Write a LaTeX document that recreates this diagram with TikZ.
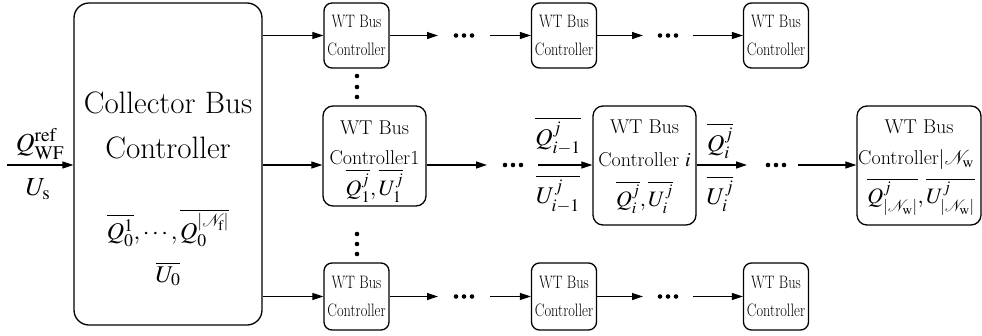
\documentclass[tikz,border=0pt]{standalone}
\usepackage{mathptmx}
\renewcommand{\rmdefault}{lmr}
\usetikzlibrary{arrows.meta,calc}
\newcommand{\condw}[1]{\scalebox{0.8}[1]{#1}}
\begin{document}
\begin{tikzpicture}[x=1pt,y=-1pt,
  box/.style={draw,line width=1.3pt,rounded corners=8pt,inner sep=0pt},
  sbox/.style={box,minimum width=65pt,minimum height=65pt,align=center,font=\fontsize{18}{28}\selectfont},
  mbox/.style={box,rounded corners=10pt,minimum width=103pt},
  arr/.style={-{Triangle[length=11pt,width=7pt]},line width=1.2pt},
  md/.style={font=\fontsize{20}{20}\selectfont,inner sep=0pt},
  mm/.style={font=\fontsize{22}{22}\selectfont,inner sep=0pt},
  lbl/.style={font=\fontsize{24}{24}\selectfont,inner sep=0pt},
  big/.style={font=\fontsize{31}{31}\selectfont,inner sep=0pt},
  dot/.style={fill=black}]
\useasboundingbox (0,0) rectangle (982,335);
% collector
\node[box,rounded corners=15pt,minimum width=188pt,minimum height=322pt] (C) at (168,164) {};
\node[big] (c1) at (168,103) {Collector Bus};
\node[big] (c2) at (168,148) {Controller};
\node[lbl] (c3) at (168,228) {$\overline{Q_0^1},\cdots,\overline{Q_0^{|\mathcal{N}_\mathrm{f}|}}$};
\node[lbl] (c4) at (168,274) {$\overline{U_0}$};
% input
\coordinate (in) at (7,165);
\draw[arr] (in) -- (in -| C.west);
\node[lbl,font=\fontsize{26}{26}\selectfont] (qref) at (40,144) {$Q_{\mathrm{WF}}^{\mathrm{ref}}$};
\node[lbl,font=\fontsize{26}{26}\selectfont] (us) at (38,189) {$U_\mathrm{s}$};
% top row
\node[sbox] (T1) at (356.5,35.5) {\condw{WT Bus}\\\condw{Controller}};
\node[sbox] (T2) at (564,35.5) {\condw{WT Bus}\\\condw{Controller}};
\node[sbox] (T3) at (776,35.5) {\condw{WT Bus}\\\condw{Controller}};
\coordinate (ta1) at (438,35.5);
\coordinate (ta2) at (490,35.5);
\coordinate (ta3) at (643,35.5);
\coordinate (ta4) at (693,35.5);
\draw[arr] (C.east |- T1.west) -- (T1.west);
\draw[arr] (T1.east) -- (ta1);
\draw[arr] (ta2) -- (T2.west);
\draw[arr] (T2.east) -- (ta3);
\draw[arr] (ta4) -- (T3.west);
\foreach \x in {456,464,472,660,668,676} \fill[dot] (\x,35.5) circle (2.3pt);
% bottom row
\node[sbox,minimum height=67pt] (B1) at (356.5,296.5) {\condw{WT Bus}\\\condw{Controller}};
\node[sbox,minimum height=67pt] (B2) at (564,296.5) {\condw{WT Bus}\\\condw{Controller}};
\node[sbox,minimum height=67pt] (B3) at (776,296.5) {\condw{WT Bus}\\\condw{Controller}};
\coordinate (ba1) at (438,296.5);
\coordinate (ba2) at (490,296.5);
\coordinate (ba3) at (643,296.5);
\coordinate (ba4) at (693,296.5);
\draw[arr] (C.east |- B1.west) -- (B1.west);
\draw[arr] (B1.east) -- (ba1);
\draw[arr] (ba2) -- (B2.west);
\draw[arr] (B2.east) -- (ba3);
\draw[arr] (ba4) -- (B3.west);
\foreach \x in {456,464,472,660,668,676} \fill[dot] (\x,296.5) circle (2.3pt);
% vertical dots
\foreach \y in {76,87,97,234,244,254} \fill[dot] (357,\y) circle (2.3pt);
% middle row
\coordinate (mrow) at (0,165);
\node[mbox,minimum height=100pt] (M1) at (374.5,156) {};
\node[md] (M1a) at (374.5,128) {WT Bus};
\node[md] (M1b) at (374.5,158) {Controller1};
\node[mm] (M1c) at (374.5,186) {$\overline{Q_1^j},\overline{U_1^j}$};
\node[mbox,minimum height=119pt] (Mi) at (644.5,165.5) {};
\node[md] (Mia) at (644.5,127) {WT Bus};
\node[md] (Mib) at (644.5,160) {Controller $i$};
\node[mm] (Mic) at (644.5,197) {$\overline{Q_i^j},\overline{U_i^j}$};
\node[mbox,minimum width=124pt,minimum height=119pt] (MN) at (919,165.5) {};
\node[md] (MNa) at (919,127) {WT Bus};
\node[md,anchor=west] (MNb) at (858,160) {Controller$|\mathcal{N}_\mathrm{w}$};
\node[mm] (MNc) at (921,197) {$\overline{Q_{|\mathcal{N}_\mathrm{w}|}^j},\overline{U_{|\mathcal{N}_\mathrm{w}|}^j}$};
\coordinate (ma1) at (487,165);
\coordinate (ma2) at (538,165);
\coordinate (ma3) at (747,165);
\coordinate (ma4) at (798,165);
\draw[arr] (C.east |- mrow) -- (M1.west |- mrow);
\draw[arr] (M1.east |- mrow) -- (ma1);
\draw[arr] (ma2) -- (Mi.west |- mrow);
\draw[arr] (Mi.east |- mrow) -- (ma3);
\draw[arr] (ma4) -- (MN.west |- mrow);
\foreach \x in {505,513,521,768,776,784} \fill[dot] (\x,165) circle (2.3pt);
\node[lbl] (lq1) at (558,136) {$\overline{Q_{i-1}^j}$};
\node[lbl] (lu1) at (558,194) {$\overline{U_{i-1}^j}$};
\node[lbl] (lq2) at (720,141) {$\overline{Q_i^j}$};
\node[lbl] (lu2) at (720,194) {$\overline{U_i^j}$};
\end{tikzpicture}
\end{document}
